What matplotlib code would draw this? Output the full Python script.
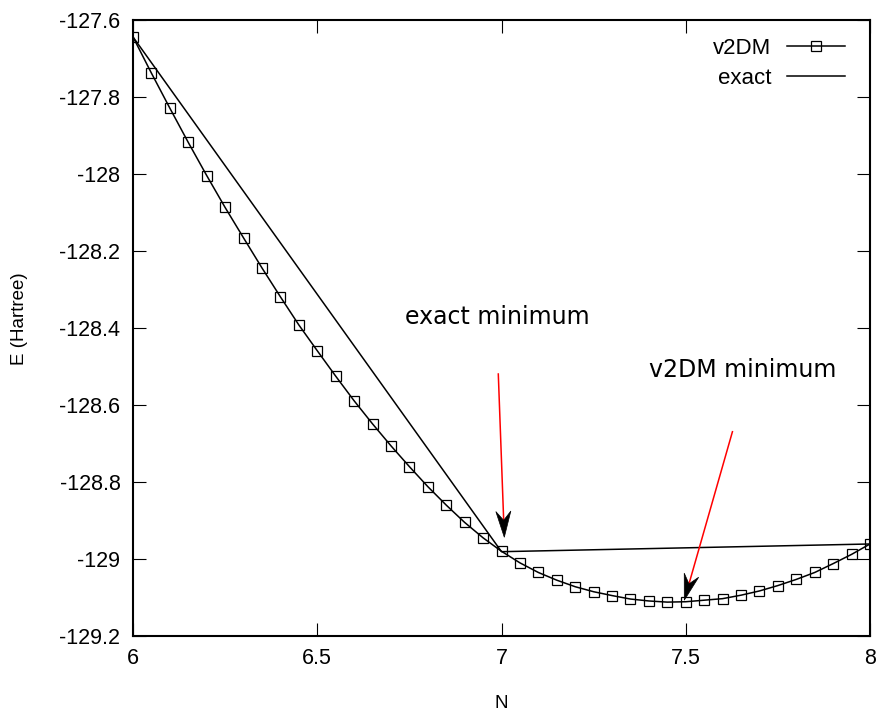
import matplotlib.pyplot as plt
import numpy as np
from matplotlib.patches import Polygon

# v2DM energies on a 0.05 grid in N
n_v2dm = [6.00, 6.05, 6.10, 6.15, 6.20, 6.25, 6.30, 6.35, 6.40, 6.45,
          6.50, 6.55, 6.60, 6.65, 6.70, 6.75, 6.80, 6.85, 6.90, 6.95,
          7.00, 7.05, 7.10, 7.15, 7.20, 7.25, 7.30, 7.35, 7.40, 7.45,
          7.50, 7.55, 7.60, 7.65, 7.70, 7.75, 7.80, 7.85, 7.90, 7.95, 8.00]
e_v2dm = [-127.644, -127.738, -127.829, -127.918, -128.004, -128.087, -128.166,
          -128.244, -128.319, -128.392, -128.459, -128.525, -128.589, -128.649,
          -128.706, -128.760, -128.812, -128.860, -128.905, -128.945, -128.980,
          -129.010, -129.035, -129.055, -129.072, -129.085, -129.095, -129.104,
          -129.109, -129.112, -129.111, -129.107, -129.103, -129.094, -129.083,
          -129.069, -129.053, -129.035, -129.012, -128.988, -128.961]

# exact energies (piecewise linear between integer N)
n_exact = [6, 7, 8]
e_exact = [-127.644, -128.981, -128.961]

# annotation arrows: (tail, head)
arrows = [((6.9913, -128.5195), (7.0076, -128.9436)),
          ((7.6267, -128.6694), (7.4961, -129.1070))]

plt.rcParams['font.family'] = ['Liberation Sans', 'DejaVu Sans']

fig = plt.figure(figsize=(8.77, 7.11), dpi=100)
ax = fig.add_axes([133/877, 75/711, 737/877, 616/711])

ax.plot(n_v2dm, e_v2dm, 'k-', marker='s', mfc='none', mec='k', ms=7.5, mew=0.9,
        lw=1.1, label='v2DM')
ax.plot(n_exact, e_exact, 'k-', lw=1.1, label='exact')

ax.set_xlim(6, 8)
ax.set_ylim(-129.2, -127.6)
ax.set_xticks([6, 6.5, 7, 7.5, 8])
ax.set_xticklabels(['6', '6.5', '7', '7.5', '8'])
ax.set_yticks(np.arange(-129.2, -127.59, 0.2))
ax.set_yticklabels(['-129.2', '-129', '-128.8', '-128.6', '-128.4',
                    '-128.2', '-128', '-127.8', '-127.6'])
ax.tick_params(direction='in', length=9.5, width=0.8, labelsize=15.5,
               top=True, right=True, pad=9)
for s in ax.spines.values():
    s.set_linewidth(1.5)

ax.set_xlabel('N', fontsize=13.5, labelpad=18)
ax.set_ylabel('E (Hartree)', fontsize=13.5)
ax.yaxis.set_label_coords(-0.143, 0.515)

ax.text(6.738, -128.371, 'exact minimum', family='DejaVu Sans', fontsize=17,
        ha='left', va='center')
ax.text(7.40, -128.509, 'v2DM minimum', family='DejaVu Sans', fontsize=17,
        ha='left', va='center')

# red shafts with black notched heads, built in pixel space
fig.canvas.draw()
to_px = ax.transData
for tail, head in arrows:
    p0 = to_px.transform(tail)
    p1 = to_px.transform(head)
    d = (p1 - p0) / np.hypot(*(p1 - p0))
    perp = np.array([-d[1], d[0]])
    hl, hw, notch = 26, 7.5, 9
    base = p1 - d * hl
    shaft_end = p1 - d * (hl - notch)
    ax.plot(*to_px.inverted().transform([p0, shaft_end]).T, color='red', lw=1.1)
    pts = [p1, base + perp * hw, p1 - d * (hl - notch), base - perp * hw]
    ax.add_patch(Polygon(to_px.inverted().transform(pts), closed=True,
                         facecolor='black', edgecolor='black', lw=0.5, zorder=4))

ax.legend(loc='upper right', frameon=False, markerfirst=False, fontsize=16,
          handlelength=2.6, handletextpad=0.7, labelspacing=0.4,
          borderaxespad=0.4, bbox_to_anchor=(0.99, 1.0))

fig.savefig('out.png', dpi=100)
